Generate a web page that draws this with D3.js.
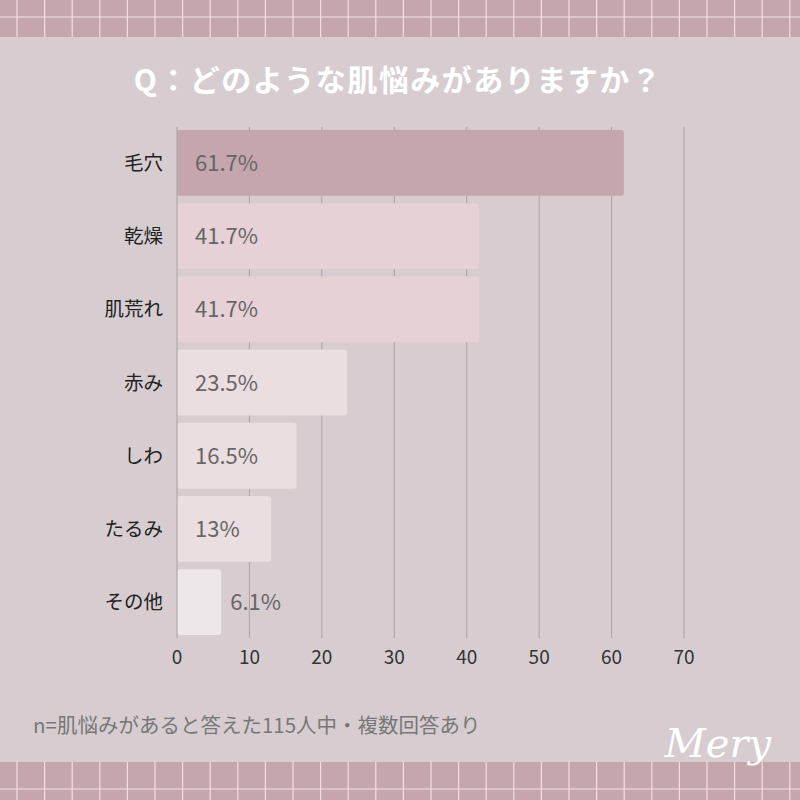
<!DOCTYPE html>
<html><head><meta charset="utf-8">
<script src="https://cdn.jsdelivr.net/npm/d3@7"></script>
<style>body{margin:0}svg{display:block}</style>
</head><body>
<svg id="chart" width="800" height="800"></svg>
<script>
const categories = ["毛穴", "乾燥", "肌荒れ", "赤み", "しわ", "たるみ", "その他"];
const values = [61.7, 41.7, 41.7, 23.5, 16.5, 13, 6.1];
const valueLabels = ["61.7%", "41.7%", "41.7%", "23.5%", "16.5%", "13%", "6.1%"];
const barColors = ["#c4a6ac", "#e6d1d6", "#e6d1d6", "#ebdee1", "#ebdee1", "#ebdee1", "#ede7e9"];
const ticks = [0, 10, 20, 30, 40, 50, 60, 70];

const svg = d3.select("#chart");
const font = "'Noto Sans CJK JP', 'Noto Sans', sans-serif";
svg.append("rect").attr("width", 800).attr("height", 800).attr("fill", "#d7cdd1");

// checkered bands top and bottom
function band(y0, h, hy) {
    svg.append("rect").attr("x", 0).attr("y", y0).attr("width", 800).attr("height", h).attr("fill", "#c4a6ac");
    for (let x = 17; x < 800; x += 27.6) {
        svg.append("line").attr("x1", x).attr("x2", x).attr("y1", y0).attr("y2", y0 + h)
            .attr("stroke", "#f3dfe3").attr("stroke-width", 1.2);
    }
    svg.append("line").attr("x1", 0).attr("x2", 800).attr("y1", hy).attr("y2", hy)
        .attr("stroke", "#f3dfe3").attr("stroke-width", 1.2);
}
band(0, 37, 17);
band(762, 38, 789);

svg.append("text").attr("x", 398).attr("y", 91).attr("text-anchor", "middle")
    .attr("font-family", font).attr("font-weight", "bold").attr("font-size", 30)
    .attr("fill", "#fff").attr("letter-spacing", 1.5).text("Q：どのような肌悩みがありますか？");

const x = d3.scaleLinear().domain([0, 70]).range([177, 684]);
const y = d3.scaleBand().domain(categories).range([127, 638]).paddingInner(0.1).paddingOuter(0.04);

svg.append("g").selectAll("line").data(ticks.slice(1)).join("line")
    .attr("x1", d => x(d)).attr("x2", d => x(d)).attr("y1", 127).attr("y2", 638)
    .attr("stroke", "#a9a1a4").attr("stroke-width", 1);

svg.append("g").selectAll("rect").data(values).join("rect")
    .attr("x", x(0)).attr("y", (d, i) => y(categories[i]))
    .attr("width", d => x(d) - x(0)).attr("height", y.bandwidth())
    .attr("rx", 3).attr("fill", (d, i) => barColors[i]);

svg.append("line").attr("x1", x(0)).attr("x2", x(0)).attr("y1", 127).attr("y2", 638)
    .attr("stroke", "#a9a1a4");

svg.append("g").selectAll("text").data(valueLabels).join("text")
    .attr("x", (d, i) => values[i] < 10 ? x(values[i]) + 9 : x(0) + 18)
    .attr("y", (d, i) => y(categories[i]) + y.bandwidth() / 2 + 8)
    .attr("font-family", font).attr("font-size", 22).attr("fill", "#666")
    .text(d => d);

svg.append("g").selectAll("text").data(categories).join("text")
    .attr("x", 163).attr("y", d => y(d) + y.bandwidth() / 2 + 7)
    .attr("text-anchor", "end").attr("font-family", font).attr("font-size", 19.5).attr("fill", "#222")
    .text(d => d);

svg.append("g").selectAll("text").data(ticks).join("text")
    .attr("x", d => x(d)).attr("y", 664).attr("text-anchor", "middle")
    .attr("font-family", font).attr("font-size", 19).attr("fill", "#333").text(d => d);

svg.append("text").attr("x", 33).attr("y", 733).attr("font-family", font).attr("font-size", 20.5)
    .attr("fill", "#777").text("n=肌悩みがあると答えた115人中・複数回答あり");

svg.append("text").attr("x", 718).attr("y", 757).attr("text-anchor", "middle")
    .attr("font-family", "'DejaVu Serif', serif").attr("font-style", "italic").attr("font-size", 40)
    .attr("fill", "#fff").text("Mery");
</script>
</body></html>
